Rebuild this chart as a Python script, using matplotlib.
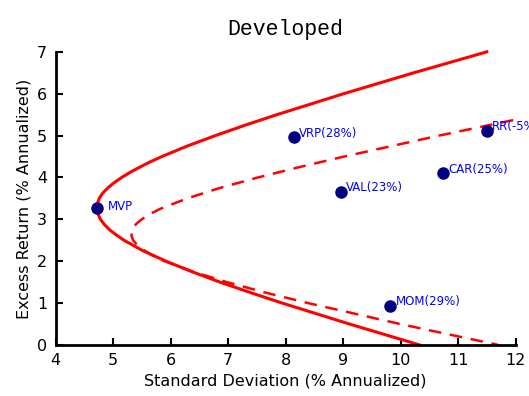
import matplotlib
matplotlib.use('Agg')
import matplotlib.pyplot as plt

# frontier (sd, excess return)
solid_ret = [7.0, 6.5, 6.0, 5.5, 5.25, 5.0, 4.75, 4.5, 4.375, 4.25, 4.125, 4.0, 3.875,
             3.75, 3.625, 3.5, 3.4, 3.27, 3.15, 3.0, 2.875, 2.75, 2.625, 2.5, 2.25,
             2.0, 1.75, 1.5, 1.25, 1.0, 0.5, 0.0]
solid_sd = [11.50, 10.23, 9.01, 7.85, 7.30, 6.78, 6.29, 5.85, 5.65, 5.47, 5.30, 5.15, 5.02,
            4.91, 4.82, 4.76, 4.734, 4.72, 4.732, 4.78, 4.85, 4.94, 5.06, 5.19, 5.52,
            5.92, 6.37, 6.86, 7.39, 7.94, 9.11, 10.33]

dash_ret = [5.37, 5.0, 4.5, 4.25, 4.0, 3.75, 3.5, 3.25, 3.125, 3.0, 2.9, 2.8, 2.7,
            2.6, 2.5, 2.4, 2.25, 2.125, 2.0, 1.75, 1.5, 1.25, 1.0, 0.5, 0.0]
dash_sd = [11.96, 10.67, 9.02, 8.25, 7.52, 6.86, 6.29, 5.82, 5.64, 5.50, 5.41, 5.35, 5.324,
           5.323, 5.35, 5.41, 5.55, 5.70, 5.90, 6.39, 6.98, 7.65, 8.39, 9.99, 11.70]

names = ['MVP', 'VRP(28%)', 'VAL(23%)', 'CAR(25%)', 'RR(-5%)', 'MOM(29%)']
sd = [4.72, 8.14, 8.96, 10.74, 11.50, 9.82]
ret = [3.27, 4.96, 3.65, 4.10, 5.12, 0.93]

fig = plt.figure(figsize=(5.29, 3.96), dpi=100)
ax = fig.add_axes([0.105, 0.129, 0.8695, 0.740])

ax.plot(dash_sd, dash_ret, color='red', lw=1.8, dashes=(5, 3.5), clip_on=False)
ax.plot(solid_sd, solid_ret, color='red', lw=2.2, clip_on=False)
ax.plot(sd, ret, 'o', color='#000080', markersize=8, clip_on=False, zorder=5)

for i in range(len(names)):
    dx = 8 if i == 0 else 4
    dy = 1 if i == 0 else 3
    ax.annotate(names[i], (sd[i], ret[i]), xytext=(dx, dy), textcoords='offset points',
                color='blue', fontsize=8.5, ha='left', va='center',
                annotation_clip=False)

ax.set_xlim(4, 12)
ax.set_ylim(0, 7)
ax.set_xticks(range(4, 13))
ax.set_yticks(range(0, 8))
ax.spines['top'].set_visible(False)
ax.spines['right'].set_visible(False)
ax.spines['left'].set_linewidth(2)
ax.spines['bottom'].set_linewidth(2)
ax.tick_params(direction='in', length=5, width=1.5, labelsize=11.5, pad=6)
ax.set_xlabel('Standard Deviation (% Annualized)', fontsize=11.5)
ax.set_ylabel('Excess Return (% Annualized)', fontsize=11.5)
ax.set_title('Developed', fontsize=15.5, family='Liberation Mono', pad=12)

fig.savefig('out.png', dpi=100)
